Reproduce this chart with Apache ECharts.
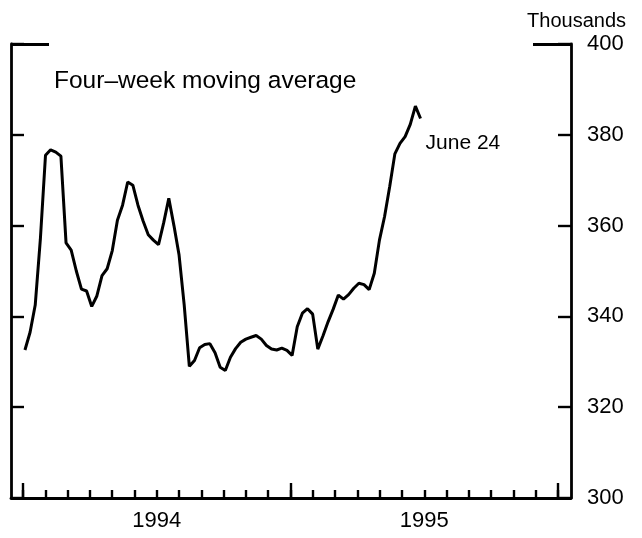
<!DOCTYPE html>
<html>
<head>
<meta charset="utf-8">
<script src="https://cdn.jsdelivr.net/npm/echarts@6/dist/echarts.min.js"></script>
<style>
  html, body { margin: 0; padding: 0; background: #fff; }
  #chart { width: 642px; height: 538px; }
</style>
</head>
<body>
<div id="chart"></div>
<script>
// Four-week moving average, weekly (Saturdays) from Jan 1 1994 to June 24 1995.
const firstWeek = Date.UTC(1994, 0, 1);
const DAY = 86400000;

const claims = [
  332.6, 336.5, 342.5, 357.0, 375.5, 376.7, 376.2, 375.3, 356.2, 354.6,
  350.0, 346.0, 345.6, 342.2, 344.5, 349.0, 350.5, 354.5, 361.2, 364.5,
  369.6, 368.9, 364.5, 361.0, 358.0, 356.8, 355.8, 360.6, 366.0, 360.0,
  353.5, 342.5, 329.0, 330.3, 333.1, 333.8, 334.0, 332.0, 328.8, 328.1,
  331.0, 332.9, 334.3, 335.0, 335.4, 335.8, 335.0, 333.6, 332.8, 332.6,
  333.0, 332.5, 331.4, 337.7, 340.7, 341.7, 340.5, 332.8, 335.7, 338.8,
  341.6, 344.7, 343.8, 344.8, 346.2, 347.3, 347.0, 345.9, 349.5, 356.8,
  362.0, 368.6, 375.8, 378.1, 379.6, 382.3, 386.3, 383.6
];

const yMin = 300, yMax = 400, yStep = 20;
const yearLabels = ['1994', '1995'];
const monthsShown = 24;      // Jan 1994 .. Jan 1996
const endNote = 'June 24';

const FONT = '"Liberation Sans", Arial, Helvetica, sans-serif';
const INK = '#000';

const points = claims.map((v, i) => [firstWeek + i * 7 * DAY, v]);

const chart = echarts.init(document.getElementById('chart'), null, { renderer: 'canvas' });

chart.setOption({
  animation: false,
  backgroundColor: '#fff',
  textStyle: { fontFamily: FONT, color: INK },
  title: [
    {
      text: 'Four\u2013week moving average',
      left: 49, top: 64,
      textStyle: { fontFamily: FONT, fontSize: 24.5, fontWeight: 'normal', color: INK }
    },
    {
      text: 'Thousands',
      right: 11, top: 6,
      textStyle: { fontFamily: FONT, fontSize: 20, fontWeight: 'normal', color: INK }
    }
  ],
  grid: [
    { left: 11, right: 71, top: 44, bottom: 40 },
    { left: 23, right: 84, top: 44, bottom: 40 }
  ],
  xAxis: [
    {
      // data axis: carries the bottom frame line
      gridIndex: 0, type: 'time', position: 'bottom',
      min: Date.UTC(1993, 11, 13), max: Date.UTC(1996, 0, 15),
      axisLine: { show: true, lineStyle: { color: INK, width: 2.8 } },
      axisTick: { show: false }, axisLabel: { show: false }, splitLine: { show: false }
    },
    {
      // monthly ticks + year labels
      gridIndex: 1, type: 'value', position: 'bottom', offset: 0,
      min: 0, max: monthsShown, interval: 1,
      axisLine: { show: false },
      axisTick: { show: true, inside: true, length: 8, lineStyle: { color: INK, width: 2.4 } },
      axisLabel: {
        show: true, margin: 12, fontSize: 22, color: INK, fontFamily: FONT,
        formatter: v => (v % 12 === 6 ? (yearLabels[(v - 6) / 12] || '') : '')
      },
      splitLine: { show: false }
    },
    {
      // taller year ticks
      gridIndex: 1, type: 'value', position: 'bottom', offset: 0,
      min: 0, max: monthsShown, interval: 12,
      axisLine: { show: false },
      axisTick: { show: true, inside: true, length: 15, lineStyle: { color: INK, width: 2.4 } },
      axisLabel: { show: false }, splitLine: { show: false }
    }
  ],
  yAxis: [
    {
      gridIndex: 0, type: 'value', position: 'left', offset: 0,
      min: yMin, max: yMax, interval: yStep,
      axisLine: { show: true, lineStyle: { color: INK, width: 2.8 } },
      axisTick: { show: true, inside: true, length: 13, lineStyle: { color: INK, width: 2.4 } },
      axisLabel: { show: false }, splitLine: { show: false }
    },
    {
      gridIndex: 0, type: 'value', position: 'right', offset: 0,
      min: yMin, max: yMax, interval: yStep,
      axisLine: { show: true, lineStyle: { color: INK, width: 2.8 } },
      axisTick: { show: true, inside: true, length: 13, lineStyle: { color: INK, width: 2.4 } },
      axisLabel: { show: true, margin: 16, fontSize: 22, color: INK, fontFamily: FONT },
      splitLine: { show: false }
    },
    {
      // long corner ticks at the top value
      gridIndex: 0, type: 'value', position: 'left', offset: 0,
      min: yMin, max: yMax, interval: yMax - yMin,
      axisLine: { show: false },
      axisTick: { show: true, inside: true, length: 38, lineStyle: { color: INK, width: 2.8 } },
      axisLabel: { show: false }, splitLine: { show: false }
    },
    {
      gridIndex: 0, type: 'value', position: 'right', offset: 0,
      min: yMin, max: yMax, interval: yMax - yMin,
      axisLine: { show: false },
      axisTick: { show: true, inside: true, length: 38, lineStyle: { color: INK, width: 2.8 } },
      axisLabel: { show: false }, splitLine: { show: false }
    },
    {
      gridIndex: 1, type: 'value', min: 0, max: 1, show: false
    }
  ],
  series: [
    {
      type: 'line',
      xAxisIndex: 0, yAxisIndex: 0,
      data: points,
      symbol: 'none',
      smooth: false,
      lineStyle: { color: INK, width: 3 },
      endLabel: {
        show: true, formatter: endNote, offset: [-3, 25],
        fontSize: 21, color: INK, fontFamily: FONT
      }
    }
  ]
});
</script>
</body>
</html>
